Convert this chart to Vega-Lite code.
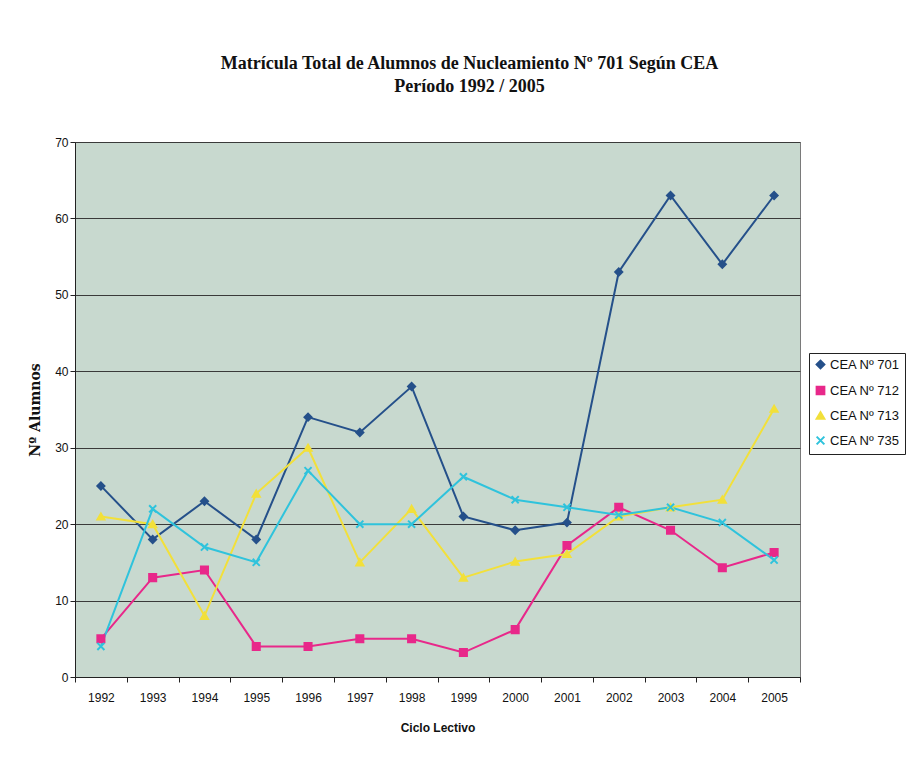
{
  "$schema": "https://vega.github.io/schema/vega-lite/v6.json",
  "autosize": {"type": "none"},
  "width": 725,
  "height": 535,
  "padding": {"left": 75, "top": 142, "right": 113, "bottom": 80},
  "background": "white",
  "title": {
    "text": ["Matrícula Total de Alumnos de Nucleamiento Nº 701 Según CEA", "Período 1992 / 2005"],
    "font": "Liberation Serif",
    "fontSize": 18,
    "fontWeight": "bold",
    "color": "#111",
    "lineHeight": 23,
    "offset": 40,
    "dx": 32,
    "anchor": "middle"
  },
  "config": {
    "view": {"fill": "#c8d9cf", "stroke": "#7a7a7a", "strokeWidth": 1},
    "axis": {"labelFont": "Liberation Sans", "labelFontSize": 12, "labelColor": "#111", "titleColor": "#111", "domainColor": "#222", "tickColor": "#222"}
  },
  "data": {"values": [
    {"year": "1992", "serie": "CEA Nº 701", "v": 25},
    {"year": "1993", "serie": "CEA Nº 701", "v": 18},
    {"year": "1994", "serie": "CEA Nº 701", "v": 23},
    {"year": "1995", "serie": "CEA Nº 701", "v": 18},
    {"year": "1996", "serie": "CEA Nº 701", "v": 34},
    {"year": "1997", "serie": "CEA Nº 701", "v": 32},
    {"year": "1998", "serie": "CEA Nº 701", "v": 38},
    {"year": "1999", "serie": "CEA Nº 701", "v": 21},
    {"year": "2000", "serie": "CEA Nº 701", "v": 19.2},
    {"year": "2001", "serie": "CEA Nº 701", "v": 20.2},
    {"year": "2002", "serie": "CEA Nº 701", "v": 53},
    {"year": "2003", "serie": "CEA Nº 701", "v": 63},
    {"year": "2004", "serie": "CEA Nº 701", "v": 54},
    {"year": "2005", "serie": "CEA Nº 701", "v": 63},
    {"year": "1992", "serie": "CEA Nº 712", "v": 5},
    {"year": "1993", "serie": "CEA Nº 712", "v": 13},
    {"year": "1994", "serie": "CEA Nº 712", "v": 14},
    {"year": "1995", "serie": "CEA Nº 712", "v": 4},
    {"year": "1996", "serie": "CEA Nº 712", "v": 4},
    {"year": "1997", "serie": "CEA Nº 712", "v": 5},
    {"year": "1998", "serie": "CEA Nº 712", "v": 5},
    {"year": "1999", "serie": "CEA Nº 712", "v": 3.2},
    {"year": "2000", "serie": "CEA Nº 712", "v": 6.2},
    {"year": "2001", "serie": "CEA Nº 712", "v": 17.2},
    {"year": "2002", "serie": "CEA Nº 712", "v": 22.2},
    {"year": "2003", "serie": "CEA Nº 712", "v": 19.2},
    {"year": "2004", "serie": "CEA Nº 712", "v": 14.3},
    {"year": "2005", "serie": "CEA Nº 712", "v": 16.3},
    {"year": "1992", "serie": "CEA Nº 713", "v": 21},
    {"year": "1993", "serie": "CEA Nº 713", "v": 20},
    {"year": "1994", "serie": "CEA Nº 713", "v": 8},
    {"year": "1995", "serie": "CEA Nº 713", "v": 24},
    {"year": "1996", "serie": "CEA Nº 713", "v": 30},
    {"year": "1997", "serie": "CEA Nº 713", "v": 15},
    {"year": "1998", "serie": "CEA Nº 713", "v": 22},
    {"year": "1999", "serie": "CEA Nº 713", "v": 13},
    {"year": "2000", "serie": "CEA Nº 713", "v": 15.1},
    {"year": "2001", "serie": "CEA Nº 713", "v": 16.1},
    {"year": "2002", "serie": "CEA Nº 713", "v": 21},
    {"year": "2003", "serie": "CEA Nº 713", "v": 22.2},
    {"year": "2004", "serie": "CEA Nº 713", "v": 23.2},
    {"year": "2005", "serie": "CEA Nº 713", "v": 35.1},
    {"year": "1992", "serie": "CEA Nº 735", "v": 4},
    {"year": "1993", "serie": "CEA Nº 735", "v": 22},
    {"year": "1994", "serie": "CEA Nº 735", "v": 17},
    {"year": "1995", "serie": "CEA Nº 735", "v": 15},
    {"year": "1996", "serie": "CEA Nº 735", "v": 27},
    {"year": "1997", "serie": "CEA Nº 735", "v": 20},
    {"year": "1998", "serie": "CEA Nº 735", "v": 20},
    {"year": "1999", "serie": "CEA Nº 735", "v": 26.2},
    {"year": "2000", "serie": "CEA Nº 735", "v": 23.2},
    {"year": "2001", "serie": "CEA Nº 735", "v": 22.2},
    {"year": "2002", "serie": "CEA Nº 735", "v": 21.2},
    {"year": "2003", "serie": "CEA Nº 735", "v": 22.2},
    {"year": "2004", "serie": "CEA Nº 735", "v": 20.2},
    {"year": "2005", "serie": "CEA Nº 735", "v": 15.3}
  ]},
  "encoding": {
    "x": {
      "field": "year", "type": "ordinal",
      "scale": {"type": "band", "paddingInner": 0, "paddingOuter": 0},
      "axis": {"title": "Ciclo Lectivo", "titleFont": "Liberation Sans", "titleFontSize": 12, "titleFontWeight": "bold", "titlePadding": 19, "labelAngle": 0, "labelPadding": 10, "tickBand": "extent", "tickSize": 5, "grid": false}
    },
    "y": {
      "field": "v", "type": "quantitative",
      "scale": {"domain": [0, 70], "nice": false},
      "axis": {"title": "Nº Alumnos", "titleFont": "DejaVu Serif", "titleFontSize": 14, "titleFontWeight": "bold", "titlePadding": 12, "values": [0, 10, 20, 30, 40, 50, 60, 70], "tickSize": 5, "grid": true, "gridColor": "#3a3a3a", "gridWidth": 1.2, "gridOpacity": 1}
    },
    "color": {
      "field": "serie", "type": "nominal",
      "scale": {"domain": ["CEA Nº 701", "CEA Nº 712", "CEA Nº 713", "CEA Nº 735"], "range": ["#25508a", "#e8288a", "#f2e03a", "#2fc3dc"]},
      "legend": {
        "title": null, "orient": "none", "legendX": 734, "legendY": 211,
        "fillColor": "white", "strokeColor": "#222", "padding": 5,
        "labelFont": "Liberation Sans", "labelFontSize": 13, "labelColor": "#111",
        "symbolSize": 60, "rowPadding": 9, "symbolStrokeWidth": 2, "labelOffset": 3
      }
    }
  },
  "layer": [
    {"mark": {"type": "line", "strokeWidth": 2}},
    {
      "mark": {"type": "point", "filled": true, "size": 50, "opacity": 1, "strokeWidth": 2},
      "encoding": {
        "shape": {
          "field": "serie", "type": "nominal",
          "scale": {"domain": ["CEA Nº 701", "CEA Nº 712", "CEA Nº 713", "CEA Nº 735"], "range": ["diamond", "square", "triangle-up", "M-1,-1L1,1M-1,1L1,-1"]}
        },
        "stroke": {
          "field": "serie", "type": "nominal",
          "scale": {"domain": ["CEA Nº 701", "CEA Nº 712", "CEA Nº 713", "CEA Nº 735"], "range": ["#25508a", "#e8288a", "#f2e03a", "#2fc3dc"]}
        }
      }
    }
  ]
}
